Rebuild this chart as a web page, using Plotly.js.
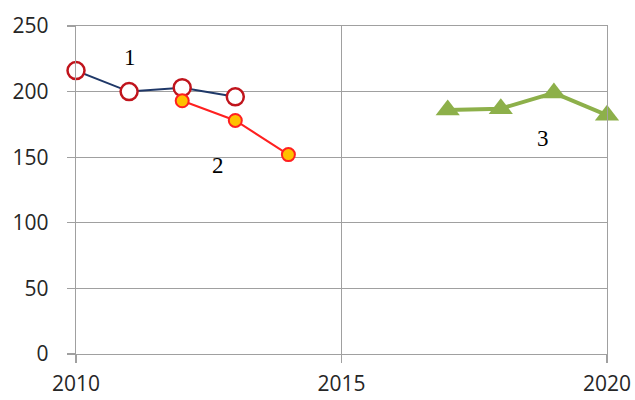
<!DOCTYPE html>
<html>
<head>
<meta charset="utf-8">
<script src="https://cdn.plot.ly/plotly-3.0.1.min.js"></script>
<style>html,body{margin:0;padding:0;background:#fff;}#chart{width:635px;height:400px;}</style>
</head>
<body>
<div id="chart"></div>
<script>
const years1 = [2010, 2011, 2012, 2013];
const values1 = [216, 200, 203, 196];
const years2 = [2012, 2013, 2014];
const values2 = [193, 178, 152];
const years3 = [2017, 2018, 2019, 2020];
const values3 = [186, 187, 199, 182];
const labelTexts = ["1", "2", "3"];
const labelX = [2011.02, 2012.68, 2018.79];
const labelY = [226, 144, 164];

const gridColor = "#a0a0a0";
const traces = [
  {x: years1, y: values1, mode: "lines+markers", cliponaxis: false,
   line: {color: "#1f3868", width: 2},
   marker: {symbol: "circle", size: 17, color: "#ffffff", line: {color: "#c0141c", width: 2.5}}},
  {x: years2, y: values2, mode: "lines+markers", cliponaxis: false,
   line: {color: "#ff2020", width: 2},
   marker: {symbol: "circle", size: 13, color: "#ffc000", line: {color: "#ff2020", width: 2}}},
  {x: years3, y: values3, mode: "lines+markers", cliponaxis: false,
   line: {color: "#8db04a", width: 4},
   marker: {symbol: "triangle-up", size: 21, color: "#8db04a", line: {width: 0}}}
];
const annotations = labelTexts.map((t, i) => ({
  x: labelX[i], y: labelY[i], xref: "x", yref: "y", text: t, showarrow: false,
  font: {family: "Liberation Serif, Times New Roman, serif", size: 23, color: "#000"}
}));
const layout = {
  width: 635, height: 400,
  margin: {l: 76, r: 28, t: 26, b: 46},
  paper_bgcolor: "#fff", plot_bgcolor: "#fff",
  showlegend: false,
  font: {family: "Open Sans, sans-serif", size: 21, color: "#262626"},
  xaxis: {range: [2010, 2020], dtick: 5, tick0: 2010, showgrid: true, gridcolor: gridColor, gridwidth: 1.3,
    showline: true, mirror: true, linecolor: gridColor, linewidth: 1.3, zeroline: false,
    ticks: "outside", ticklen: 8, tickcolor: gridColor, tickwidth: 1.3, ticklabelstandoff: 2},
  yaxis: {range: [0, 250], dtick: 50, tick0: 0, showgrid: true, gridcolor: gridColor, gridwidth: 1.3,
    showline: true, mirror: true, linecolor: gridColor, linewidth: 1.3, zeroline: false,
    ticks: "outside", ticklen: 8, tickcolor: gridColor, tickwidth: 1.3, ticklabelstandoff: 14},
  annotations: annotations
};
Plotly.newPlot("chart", traces, layout, {displayModeBar: false, staticPlot: true});
</script>
</body>
</html>
